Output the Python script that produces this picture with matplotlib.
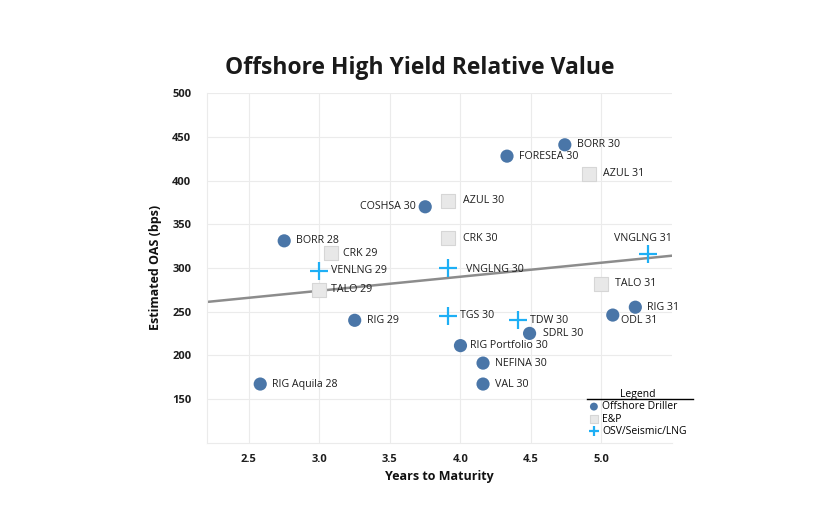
import matplotlib.pyplot as plt
from matplotlib.lines import Line2D

plt.rcParams['font.family'] = ['Open Sans', 'DejaVu Sans']

# bond data
names = ['RIG Aquila 28', 'BORR 28', 'CRK 29', 'VENLNG 29', 'TALO 29', 'RIG 29',
         'COSHSA 30', 'AZUL 30', 'CRK 30', 'VNGLNG 30', 'TGS 30', 'RIG Portfolio 30',
         'NEFINA 30', 'VAL 30', 'FORESEA 30', 'TDW 30', 'SDRL 30', 'BORR 30',
         'AZUL 31', 'TALO 31', 'ODL 31', 'RIG 31', 'VNGLNG 31']
years = [2.58, 2.75, 3.08, 3.0, 3.0, 3.25,
         3.75, 3.91, 3.91, 3.91, 3.91, 4.0,
         4.16, 4.16, 4.33, 4.41, 4.49, 4.74,
         4.91, 5.0, 5.08, 5.24, 5.33]
oas = [167, 331, 317, 297, 275, 240,
       370, 377, 334, 300, 245, 211,
       191, 167, 428, 240, 225, 441,
       408, 282, 246, 255, 316]
sector = ['Offshore Driller', 'Offshore Driller', 'E&P', 'OSV/Seismic/LNG', 'E&P', 'Offshore Driller',
          'Offshore Driller', 'E&P', 'E&P', 'OSV/Seismic/LNG', 'OSV/Seismic/LNG', 'Offshore Driller',
          'Offshore Driller', 'Offshore Driller', 'Offshore Driller', 'OSV/Seismic/LNG', 'Offshore Driller', 'Offshore Driller',
          'E&P', 'E&P', 'Offshore Driller', 'Offshore Driller', 'OSV/Seismic/LNG']

# trend line end points
trend_x = [2.2, 5.5]
trend_y = [261, 314]

styles = {
    'Offshore Driller': dict(marker='o', s=90, color='#4a76a8', edgecolors='none'),
    'E&P': dict(marker='s', s=110, color='#e8e8e8', edgecolors='#d6d6d6', linewidths=0.8),
    'OSV/Seismic/LNG': dict(marker='+', s=150, color='#1eaff5', linewidths=1.6),
}

# label offsets in points (default is to the right)
label_pos = {
    'COSHSA 30': (-7, 0, 'right'),
    'VNGLNG 31': (-4, 11, 'center'),
    'VNGLNG 30': (13, -1, 'left'),
    'AZUL 30': (11, 0, 'left'),
    'CRK 30': (11, 0, 'left'),
    'ODL 31': (6, -4, 'left'),
    'AZUL 31': (10, 0, 'left'),
    'TALO 31': (10, 0, 'left'),
    'SDRL 30': (10, 0, 'left'),
    'RIG Portfolio 30': (7, 0, 'left'),
}

fig = plt.figure(figsize=(8.4, 5.3), dpi=100)
ax = fig.add_axes([0.246, 0.165, 0.554, 0.659])

ax.plot(trend_x, trend_y, color='#8c8c8c', lw=1.8, zorder=2)

for sec, st in styles.items():
    xs = [x for x, s in zip(years, sector) if s == sec]
    ys = [y for y, s in zip(oas, sector) if s == sec]
    ax.scatter(xs, ys, label=sec, zorder=3, **st)

for n, x, y in zip(names, years, oas):
    dx, dy, ha = label_pos.get(n, (8.5, 0, 'left'))
    ax.annotate(n, (x, y), xytext=(dx, dy), textcoords='offset points',
                ha=ha, va='center', fontsize=7.7, color='#1e1e1e', zorder=4)

ax.set_xlim(2.2, 5.5)
ax.set_ylim(100, 500)
ax.set_xticks([2.5, 3.0, 3.5, 4.0, 4.5, 5.0])
ax.set_yticks([150, 200, 250, 300, 350, 400, 450, 500])
ax.grid(True, color='#ebebeb', lw=0.8)
ax.set_axisbelow(True)
for side in ['top', 'right']:
    ax.spines[side].set_visible(False)
for side in ['left', 'bottom']:
    ax.spines[side].set_color('#ebebeb')
ax.tick_params(length=0, labelsize=8, colors='#1e1e1e')
ax.tick_params(axis='x', pad=8)
ax.tick_params(axis='y', pad=11)
for lab in ax.get_xticklabels() + ax.get_yticklabels():
    lab.set_fontweight('bold')

ax.set_xlabel('Years to Maturity', fontsize=9, fontweight='bold', labelpad=4, color='#111111')
ax.set_ylabel('Estimated OAS (bps)', fontsize=9, fontweight='bold', labelpad=7, color='#111111')
fig.text(0.5, 0.871, 'Offshore High Yield Relative Value', ha='center', va='center',
         fontsize=16.5, fontweight='bold', color='#1a1a1a')

leg = ax.legend(loc='upper left', bbox_to_anchor=(0.812, 0.165), frameon=False,
                fontsize=7.5, title='Legend', title_fontsize=7.5, handletextpad=0.3,
                labelspacing=0.12, borderaxespad=0, handlelength=1.0,
                markerscale=0.6)
ax.add_line(Line2D([0.818, 1.045], [0.126, 0.126], transform=ax.transAxes,
                   color='black', lw=1, clip_on=False))

plt.savefig('out.png', dpi=100)
